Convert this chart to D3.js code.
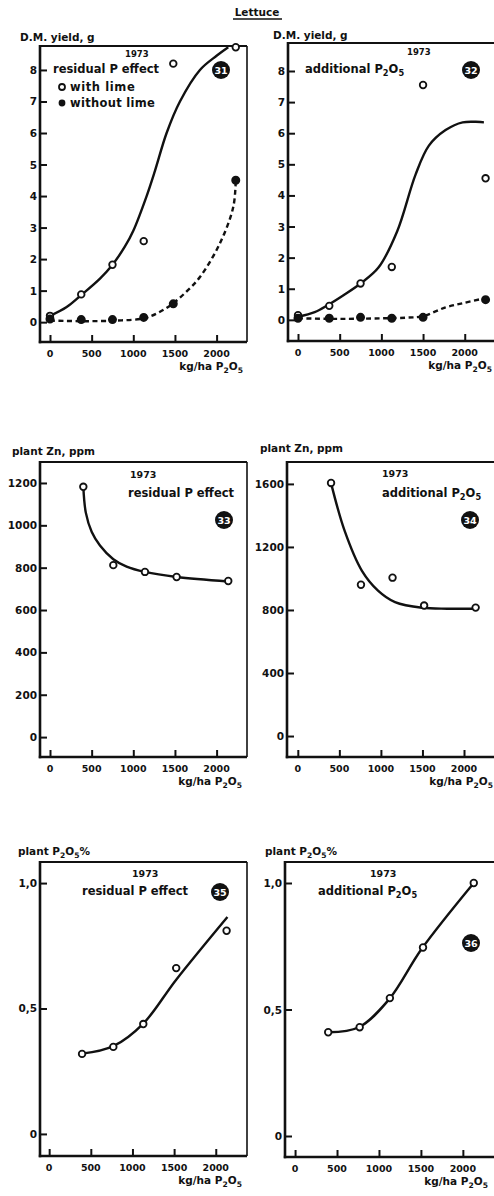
<!DOCTYPE html>
<html><head><meta charset="utf-8">
<script src="https://cdn.jsdelivr.net/npm/d3@7"></script>
<style>
html,body{margin:0;padding:0;background:#fff;}
svg text{font-family:"DejaVu Sans","Liberation Sans",Arial,sans-serif;font-weight:bold;fill:#111;}
</style></head>
<body><svg id="c" width="494" height="1196"></svg>
<script>
// ---------- DATA ----------
const xTicks = [0, 500, 1000, 1500, 2000];

// D.M. yield, residual P effect
const yieldResDose = [0, 375, 750, 1125, 1480, 2230];
const yieldResWithLime = [0.2, 0.88, 1.82, 2.57, 8.2, 8.72];
const yieldResWithoutLime = [0.1, 0.08, 0.08, 0.15, 0.58, 4.5];
const yieldResFitWithX = [0, 200, 375, 600, 755, 900, 1000, 1160, 1260, 1400, 1560, 1800, 2000, 2140];
const yieldResFitWithY = [0.2, 0.48, 0.86, 1.38, 1.84, 2.4, 2.9, 4.0, 4.8, 6.0, 7.0, 8.0, 8.45, 8.72];
const yieldResFitWithoutX = [0, 400, 800, 1125, 1300, 1480, 1650, 1800, 2040, 2200, 2230];
const yieldResFitWithoutY = [0.05, 0.03, 0.05, 0.12, 0.3, 0.6, 1.0, 1.43, 2.5, 3.65, 4.5];
const yieldTicks = [0, 1, 2, 3, 4, 5, 6, 7, 8];

// D.M. yield, additional P2O5
const yieldAddDose = [0, 375, 750, 1125, 1500, 2250];
const yieldAddWithLime = [0.15, 0.45, 1.17, 1.7, 7.55, 4.55];
const yieldAddWithoutLime = [0.05, 0.05, 0.08, 0.05, 0.08, 0.65];
const yieldAddFitWithX = [0, 200, 360, 550, 750, 965, 1190, 1410, 1570, 1770, 1975, 2230];
const yieldAddFitWithY = [0.1, 0.25, 0.48, 0.8, 1.17, 1.68, 2.85, 4.67, 5.6, 6.1, 6.35, 6.35];
const yieldAddFitWithoutX = [0, 500, 1000, 1300, 1500, 1770, 2000, 2250];
const yieldAddFitWithoutY = [0.05, 0.03, 0.05, 0.07, 0.12, 0.4, 0.55, 0.7];

// plant Zn, ppm
const znDose = [400, 760, 1140, 1520, 2140];
const znResidual = [1182, 812, 780, 756, 737];
const znResFitX = [400, 430, 500, 600, 760, 920, 1140, 1520, 2140];
const znResFitY = [1182, 1060, 970, 905, 840, 805, 780, 756, 735];
const znResTicks = [0, 200, 400, 600, 800, 1000, 1200];
const znAdditional = [1606, 960, 1005, 828, 815];
const znAddFitX = [400, 565, 770, 965, 1170, 1495, 1800, 2130];
const znAddFitY = [1605, 1300, 1050, 923, 850, 814, 808, 808];
const znAddTicks = [0, 400, 800, 1200, 1600];

// plant P2O5 %
const pDose = [395, 770, 1130, 1525, 2130];
const pResidual = [0.319, 0.347, 0.438, 0.661, 0.81];
const pResFitX = [395, 770, 1130, 1525, 2140];
const pResFitY = [0.32, 0.35, 0.44, 0.615, 0.865];
const pAdditional = [0.41, 0.43, 0.545, 0.745, 1.0];
const pAddFitX = [400, 760, 1120, 1510, 2130];
const pAddFitY = [0.41, 0.43, 0.54, 0.74, 1.0];
const pTicks = [0, 0.5, 1.0];
const pTickLabels = ["0", "0,5", "1,0"];

// ---------- DRAW ----------
const svg = d3.select("#c");
const FS = 11.5;

function sub(textSel, parts, size) {
  let prevSub = false;
  parts.forEach(([s, isSub]) => {
    let dy = 0;
    if (isSub && !prevSub) dy = size * 0.3;
    if (!isSub && prevSub) dy = -size * 0.3;
    textSel.append("tspan").text(s)
      .attr("font-size", isSub ? size * 0.72 : size)
      .attr("dy", dy);
    prevSub = isSub;
  });
}

function panel(cfg) {
  const x = d3.scaleLinear().domain(cfg.xd).range([cfg.l, cfg.r]);
  const y = d3.scaleLinear().domain(cfg.yd).range([cfg.b, cfg.t]);
  const g = svg.append("g");
  // frame
  g.append("line").attr("x1", cfg.l).attr("x2", cfg.r).attr("y1", cfg.t).attr("y2", cfg.t)
    .attr("stroke", "#111").attr("stroke-width", 2);
  if (cfg.rightBorder) g.append("line").attr("x1", cfg.r).attr("x2", cfg.r).attr("y1", cfg.t).attr("y2", cfg.b)
    .attr("stroke", "#111").attr("stroke-width", 1.6);
  // axes
  const xa = d3.axisTop(x).tickValues(xTicks).tickSize(7).tickFormat("");
  const xg = g.append("g").attr("transform", `translate(0,${cfg.b})`).call(xa);
  xg.select(".domain").remove();
  xg.selectAll("line").attr("stroke", "#111").attr("stroke-width", 2);
  const ya = d3.axisRight(y).tickValues(cfg.yTicks).tickSize(7).tickFormat("");
  const yg = g.append("g").attr("transform", `translate(${cfg.l},0)`).call(ya);
  yg.select(".domain").remove();
  yg.selectAll("line").attr("stroke", "#111").attr("stroke-width", 2);
  g.append("line").attr("x1", cfg.l).attr("x2", cfg.l).attr("y1", cfg.t - 1).attr("y2", cfg.b + 1.2)
    .attr("stroke", "#111").attr("stroke-width", 2.6);
  g.append("line").attr("x1", cfg.l - 1.2).attr("x2", cfg.r).attr("y1", cfg.b).attr("y2", cfg.b)
    .attr("stroke", "#111").attr("stroke-width", 2.6);
  // tick labels
  g.selectAll(".xl").data(xTicks).enter().append("text")
    .attr("x", d => x(d)).attr("y", cfg.b + 15).attr("text-anchor", "middle")
    .attr("font-size", 9.5).text(d => d);
  g.selectAll(".yl").data(cfg.yTicks).enter().append("text")
    .attr("x", cfg.l - 3).attr("y", d => y(d) + 4).attr("text-anchor", "end")
    .attr("font-size", 10.5).text((d, i) => cfg.yTickLabels ? cfg.yTickLabels[i] : d);
  // x label
  const xl = g.append("text").attr("x", cfg.xle).attr("y", cfg.b + 28).attr("text-anchor", "end").attr("font-size", 10.5);
  sub(xl, [["kg/ha P", 0], ["2", 1], ["O", 0], ["5", 1]], 10.5);
  // y label
  const yl = g.append("text").attr("x", cfg.ylx).attr("y", cfg.yly).attr("font-size", 10.5);
  sub(yl, cfg.ylabel, 10.5);
  // curves
  const line = d3.line().x(d => x(d[0])).y(d => y(d[1])).curve(d3.curveCatmullRom.alpha(0.5));
  cfg.curves.forEach(c => {
    g.append("path").attr("d", line(d3.zip(c.x, c.y))).attr("fill", "none")
      .attr("stroke", "#111").attr("stroke-width", 2.4)
      .attr("stroke-dasharray", c.dash ? "5,3.5" : null);
  });
  // points
  cfg.series.forEach(s => {
    g.selectAll(null).data(d3.zip(s.x, s.y)).enter().append("circle")
      .attr("cx", d => x(d[0])).attr("cy", d => y(d[1])).attr("r", s.filled ? 3.6 : 3.3)
      .attr("fill", s.filled ? "#111" : "#fff").attr("stroke", "#111").attr("stroke-width", 1.8);
  });
  // circled number
  g.append("circle").attr("cx", cfg.badge[0]).attr("cy", cfg.badge[1]).attr("r", 9).attr("fill", "#111");
  g.append("text").attr("x", cfg.badge[0]).attr("y", cfg.badge[1] + 4).attr("text-anchor", "middle")
    .attr("font-size", 9.5).style("fill", "#fff").text(cfg.badge[2]);
  return {g, x, y};
}

// Title
svg.append("text").attr("x", 257).attr("y", 16).attr("text-anchor", "middle").attr("font-size", 10.5).text("Lettuce");
svg.append("line").attr("x1", 233).attr("x2", 282).attr("y1", 19).attr("y2", 19).attr("stroke", "#111").attr("stroke-width", 1.3);

const P2 = [["P", 0], ["2", 1], ["O", 0], ["5", 1]];

// Panel A
const A = panel({l: 40, r: 247, t: 46, b: 342, xd: [-120, 2365], yd: [-0.63, 8.76], yTicks: yieldTicks,
  xle: 243, ylx: 20, yly: 41, ylabel: [["D.M. yield, g", 0]], rightBorder: true,
  curves: [{x: yieldResFitWithX, y: yieldResFitWithY}, {x: yieldResFitWithoutX, y: yieldResFitWithoutY, dash: true}],
  series: [{x: yieldResDose, y: yieldResWithLime}, {x: yieldResDose, y: yieldResWithoutLime, filled: true}],
  badge: [221, 70, "31"]});
A.g.append("text").attr("x", 125).attr("y", 57).attr("font-size", 8.5).text("1973");
A.g.append("text").attr("x", 53).attr("y", 73).attr("font-size", FS).text("residual P effect");
A.g.append("circle").attr("cx", 62).attr("cy", 87).attr("r", 3).attr("fill", "#fff").attr("stroke", "#111").attr("stroke-width", 1.8);
A.g.append("text").attr("x", 70).attr("y", 91).attr("font-size", FS).attr("letter-spacing", 0.6).text("with lime");
A.g.append("circle").attr("cx", 62).attr("cy", 103).attr("r", 3.4).attr("fill", "#111");
A.g.append("text").attr("x", 70).attr("y", 107).attr("font-size", FS).attr("letter-spacing", 0.3).text("without lime");

// Panel B
const B = panel({l: 288, r: 496, t: 43, b: 341, xd: [-120, 2375], yd: [-0.68, 8.9], yTicks: yieldTicks,
  xle: 492, ylx: 273, yly: 39, ylabel: [["D.M. yield, g", 0]], rightBorder: false,
  curves: [{x: yieldAddFitWithX, y: yieldAddFitWithY}, {x: yieldAddFitWithoutX, y: yieldAddFitWithoutY, dash: true}],
  series: [{x: yieldAddDose, y: yieldAddWithLime}, {x: yieldAddDose, y: yieldAddWithoutLime, filled: true}],
  badge: [471, 70, "32"]});
B.g.append("text").attr("x", 407).attr("y", 55).attr("font-size", 8.5).text("1973");
{ const t = B.g.append("text").attr("x", 305).attr("y", 73).attr("font-size", FS);
  sub(t, [["additional ", 0]].concat(P2), FS); }

// Panel C
const C = panel({l: 40, r: 247, t: 462, b: 757, xd: [-120, 2365], yd: [-94, 1299], yTicks: znResTicks,
  xle: 242, ylx: 12, yly: 455, ylabel: [["plant Zn, ppm", 0]], rightBorder: true,
  curves: [{x: znResFitX, y: znResFitY}],
  series: [{x: znDose, y: znResidual}],
  badge: [224, 520, "33"]});
C.g.append("text").attr("x", 130).attr("y", 478).attr("font-size", 9.5).text("1973");
C.g.append("text").attr("x", 128).attr("y", 497).attr("font-size", FS).text("residual P effect");

// Panel D
const D = panel({l: 287, r: 496, t: 462, b: 757, xd: [-130, 2385], yd: [-133, 1739], yTicks: znAddTicks,
  xle: 493, ylx: 260, yly: 452, ylabel: [["plant Zn, ppm", 0]], rightBorder: false,
  curves: [{x: znAddFitX, y: znAddFitY}],
  series: [{x: znDose, y: znAdditional}],
  badge: [470, 520, "34"]});
D.g.append("text").attr("x", 382).attr("y", 477).attr("font-size", 9.5).text("1973");
{ const t = D.g.append("text").attr("x", 382).attr("y", 497).attr("font-size", FS);
  sub(t, [["additional ", 0]].concat(P2), FS); }

// Panel E
const E = panel({l: 40, r: 247, t: 862, b: 1156, xd: [-110, 2375], yd: [-0.088, 1.084], yTicks: pTicks, yTickLabels: pTickLabels,
  xle: 242, ylx: 18, yly: 855, ylabel: [["plant P", 0], ["2", 1], ["O", 0], ["5", 1], ["%", 0]], rightBorder: true,
  curves: [{x: pResFitX, y: pResFitY}],
  series: [{x: pDose, y: pResidual}],
  badge: [220, 892, "35"]});
E.g.append("text").attr("x", 132).attr("y", 877).attr("font-size", 9.5).text("1973");
E.g.append("text").attr("x", 82).attr("y", 895).attr("font-size", FS).text("residual P effect");

// Panel F
const F = panel({l: 285, r: 496, t: 862, b: 1157, xd: [-120, 2395], yd: [-0.083, 1.083], yTicks: pTicks, yTickLabels: pTickLabels,
  xle: 488, ylx: 265, yly: 855, ylabel: [["plant P", 0], ["2", 1], ["O", 0], ["5", 1], ["%", 0]], rightBorder: false,
  curves: [{x: pAddFitX, y: pAddFitY}],
  series: [{x: pDose, y: pAdditional}],
  badge: [471, 943, "36"]});
F.g.append("text").attr("x", 370).attr("y", 877).attr("font-size", 9.5).text("1973");
{ const t = F.g.append("text").attr("x", 318).attr("y", 895).attr("font-size", FS);
  sub(t, [["additional ", 0]].concat(P2), FS); }
</script>
</body></html>
